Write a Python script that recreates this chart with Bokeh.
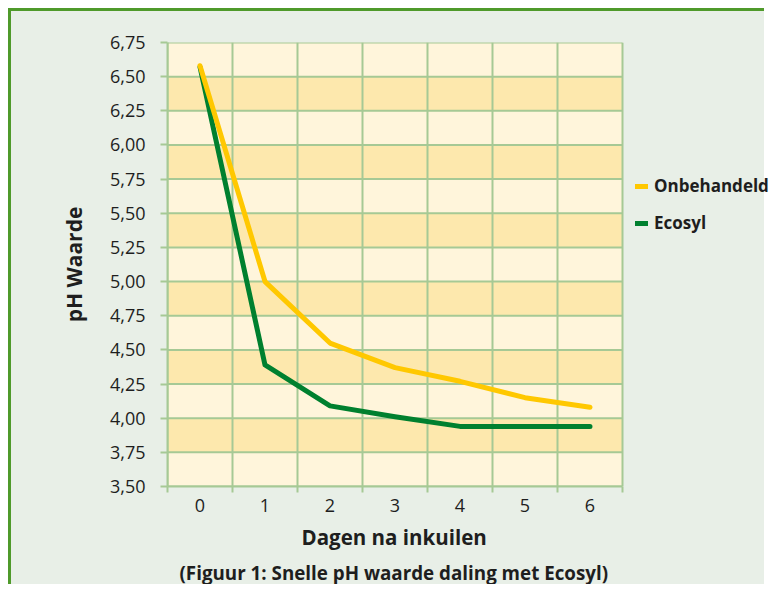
from bokeh.plotting import figure
from bokeh.models import Range1d, FixedTicker, Legend, LegendItem, Title
from bokeh.embed import file_html
from bokeh.resources import INLINE

# ---- data ----
days = [0, 1, 2, 3, 4, 5, 6]
onbehandeld = [6.58, 5.00, 4.55, 4.37, 4.27, 4.15, 4.08]
ecosyl = [6.57, 4.39, 4.09, 4.01, 3.94, 3.94, 3.94]
y_ticks = [3.50, 3.75, 4.00, 4.25, 4.50, 4.75, 5.00, 5.25, 5.50, 5.75, 6.00, 6.25, 6.50, 6.75]
y_tick_labels = ["3,50", "3,75", "4,00", "4,25", "4,50", "4,75", "5,00", "5,25",
                 "5,50", "5,75", "6,00", "6,25", "6,50", "6,75"]
x_cell_edges = [-0.5, 0.5, 1.5, 2.5, 3.5, 4.5, 5.5, 6.5]

FONT = "Open Sans"
BG = "#E8EFE7"
BORDER = "#4F9A2B"
GRID = "#A6C995"
BAND_LIGHT = "#FFF5DB"
BAND_DARK = "#FDE8AD"
YELLOW = "#FFC800"
GREEN = "#00802F"
TEXT = "#1E1E1E"

x0, x1 = x_cell_edges[0], x_cell_edges[-1]
y0, y1 = y_ticks[0], y_ticks[-1]

p = figure(width=764, height=584, output_backend="svg", toolbar_location=None,
           x_range=Range1d(x0, 8.854), y_range=Range1d(y0, y1),
           min_border_left=156, min_border_right=0, min_border_top=31,
           min_border_bottom=109)
p.styles = {"border-top": "8px solid white", "border-left": "8px solid white",
            "padding-top": "3px", "padding-left": "3px",
            "background-image": (f"linear-gradient(to right, {BORDER} 3px, rgba(0,0,0,0) 3px), "
                                 f"linear-gradient(to bottom, {BORDER} 3px, {BG} 3px)")}
p.background_fill_color = None
p.border_fill_color = None
p.outline_line_color = None
p.xgrid.grid_line_color = None
p.ygrid.grid_line_color = None

# plot-area bands and grid (limited to the category cells)
p.quad(left=[x0], right=[x1], bottom=[y0], top=[y1], fill_color=BAND_LIGHT, line_color=None)
p.quad(left=x0, right=x1, bottom=y_ticks[1:-1:2], top=y_ticks[2::2],
       fill_color=BAND_DARK, line_color=None)
p.segment(x0=[x0] * len(y_ticks), x1=[x1] * len(y_ticks), y0=y_ticks, y1=y_ticks,
          line_color=GRID, line_width=2)
p.segment(x0=x_cell_edges, x1=x_cell_edges, y0=[y0] * len(x_cell_edges),
          y1=[y1] * len(x_cell_edges), line_color=GRID, line_width=2)

# x axis
p.xaxis.bounds = (x0, x1)
p.xaxis.ticker = FixedTicker(ticks=days, minor_ticks=x_cell_edges)
p.xaxis.major_tick_line_color = None
p.xaxis.minor_tick_line_color = GRID
p.xaxis.minor_tick_line_width = 2
p.xaxis.minor_tick_in = 0
p.xaxis.minor_tick_out = 6
p.xaxis.axis_line_color = GRID
p.xaxis.axis_line_width = 2
p.xaxis.major_label_standoff = 6

# y axis
p.yaxis.ticker = FixedTicker(ticks=y_ticks)
p.yaxis.major_label_overrides = {t: l for t, l in zip(y_ticks, y_tick_labels)}
p.yaxis.minor_tick_line_color = None
p.yaxis.major_tick_line_color = GRID
p.yaxis.major_tick_line_width = 2
p.yaxis.major_tick_in = 0
p.yaxis.major_tick_out = 7
p.yaxis.axis_line_color = GRID
p.yaxis.axis_line_width = 2
p.yaxis.major_label_standoff = 15
p.yaxis.axis_label = "pH Waarde"
p.yaxis.axis_label_standoff = 19

for ax in (p.xaxis, p.yaxis):
    ax.major_label_text_font = FONT
    ax.major_label_text_font_size = "18px"
    ax.major_label_text_color = TEXT
    ax.axis_label_text_font = FONT
    ax.axis_label_text_font_size = "21px"
    ax.axis_label_text_font_style = "bold"
    ax.axis_label_text_color = TEXT

# lines
r_eco = p.line(days, ecosyl, line_color=GREEN, line_width=5,
               line_cap="round", line_join="round")
r_onb = p.line(days, onbehandeld, line_color=YELLOW, line_width=5,
               line_cap="round", line_join="round")

legend = Legend(items=[LegendItem(label="Onbehandeld", renderers=[r_onb]),
                       LegendItem(label="Ecosyl", renderers=[r_eco])],
                location=(468, 252), padding=0, margin=0,
                glyph_width=13, glyph_height=20, label_height=20, spacing=14,
                label_standoff=6, border_line_color=None, background_fill_alpha=0,
                label_text_font=FONT, label_text_font_size="17px",
                label_text_font_style="bold", label_text_color=TEXT)
p.add_layout(legend, "center")

xlabel = Title(text="Dagen na inkuilen", align="left", offset=134,
               text_font=FONT, text_font_size="20.5px", text_font_style="bold",
               text_color=TEXT, standoff=13)
p.add_layout(xlabel, "below")

caption = Title(text="(Figuur 1: Snelle pH waarde daling met Ecosyl)", align="left",
                offset=12, text_font=FONT, text_font_size="18.8px", text_font_style="bold",
                text_color=TEXT, standoff=0)
p.add_layout(caption, "below")

open("out.html", "w").write(file_html(p, INLINE))
